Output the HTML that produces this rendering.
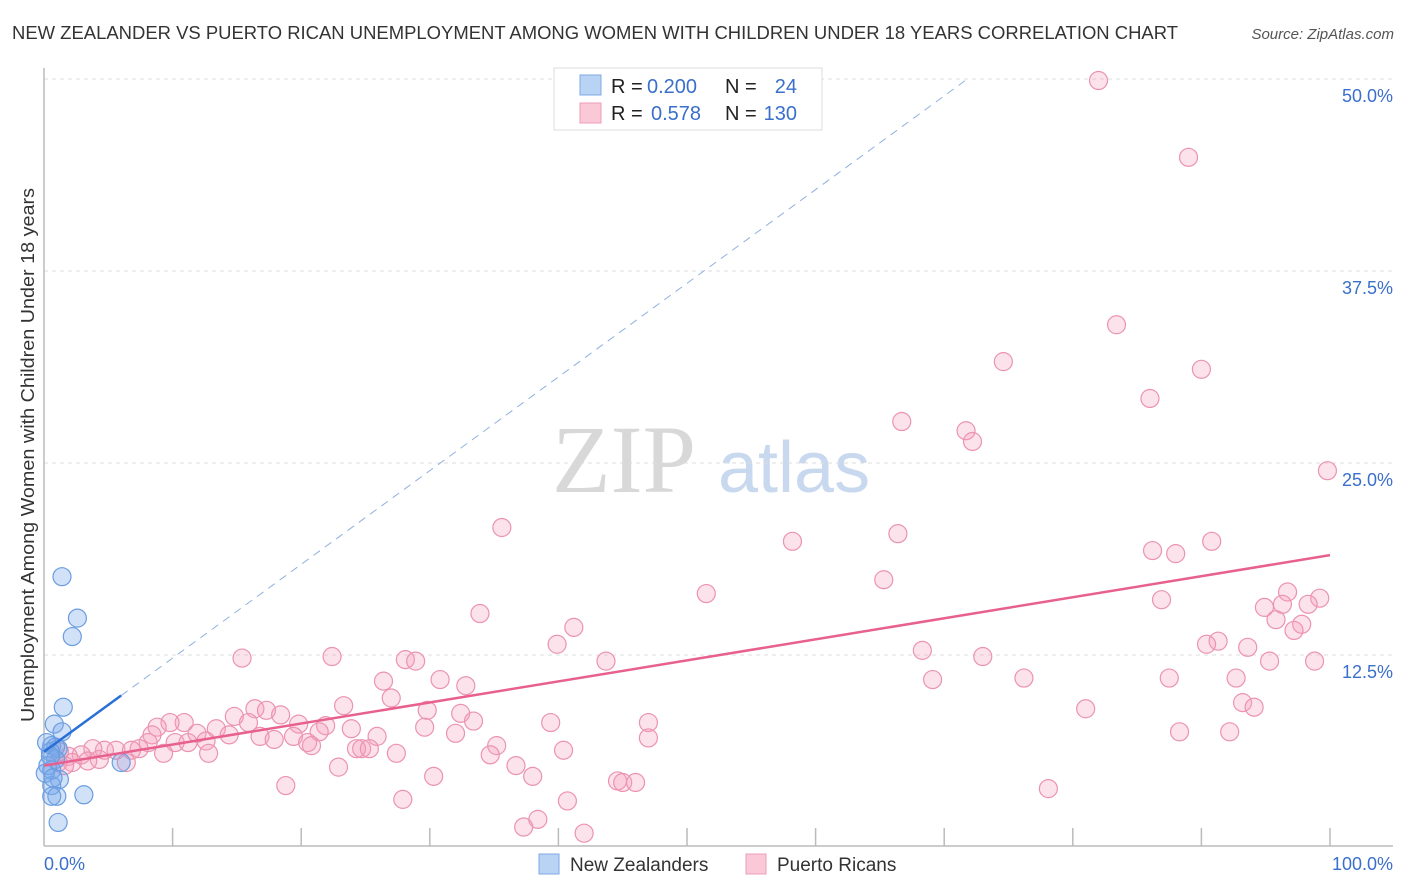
<!DOCTYPE html>
<html><head><meta charset="utf-8"><style>
body{margin:0;background:#fff;font-family:"Liberation Sans",sans-serif}
svg{display:block}
</style></head><body>
<svg id="chart" width="1406" height="892">
<text x="12" y="39" font-size="18" fill="#333" textLength="1166" lengthAdjust="spacingAndGlyphs">NEW ZEALANDER VS PUERTO RICAN UNEMPLOYMENT AMONG WOMEN WITH CHILDREN UNDER 18 YEARS CORRELATION CHART</text>
<text x="1394" y="39" font-size="15" fill="#555" font-style="italic" text-anchor="end">Source: ZipAtlas.com</text>
<g>
<text x="552" y="492" font-size="96" font-family="Liberation Serif,serif" fill="#d8d8d8">ZIP</text>
<text x="718" y="492" font-size="72" fill="#c8d8ee">atlas</text>
</g>
<g id="grid"></g>
<g id="axes"></g>
<g id="marks"></g>
<text transform="translate(34,455) rotate(-90)" font-size="18" fill="#333" text-anchor="middle" textLength="534" lengthAdjust="spacingAndGlyphs">Unemployment Among Women with Children Under 18 years</text>
<g>
<rect x="554" y="68" width="268" height="62" fill="#fff" stroke="#ddd"/>
<rect x="580" y="75" width="21" height="20" fill="#b9d3f5" stroke="#7eaae6"/>
<rect x="580" y="103" width="21" height="20" fill="#fac8d7" stroke="#ee9db8"/>
<g font-size="20">
<text x="611" y="93" fill="#222">R =</text>
<text x="647" y="93" fill="#3a6fcc">0.200</text>
<text x="725" y="93" fill="#222">N =</text>
<text x="797" y="93" fill="#3a6fcc" text-anchor="end">24</text>
<text x="611" y="120" fill="#222">R =</text>
<text x="651" y="120" fill="#3a6fcc">0.578</text>
<text x="725" y="120" fill="#222">N =</text>
<text x="797" y="120" fill="#3a6fcc" text-anchor="end">130</text>
</g>
</g>
<g>
<rect x="539" y="854" width="20" height="20" fill="#b9d3f5" stroke="#7eaae6"/>
<text x="570" y="871" font-size="19" fill="#333">New Zealanders</text>
<rect x="746" y="854" width="20" height="20" fill="#fac8d7" stroke="#ee9db8"/>
<text x="777" y="871" font-size="19" fill="#333">Puerto Ricans</text>
</g>
</svg>
<script>
const yTicks=[12.5,25,37.5,50];
const yTickLabels=["12.5%","25.0%","37.5%","50.0%"];
const xTickLabels=["0.0%","100.0%"];
const pinkX=[82.0,89.0,83.4,74.6,90.0,86.0,66.7,71.7,72.2,99.8,35.6,66.4,58.2,90.8,86.2,88.0,65.3,51.5,96.7,99.2,86.9,96.3,98.3,94.9,33.9,95.8,97.8,97.2,41.2,91.3,90.4,39.9,93.6,68.3,15.4,22.4,43.7,73.0,95.3,98.8,28.1,28.9,92.7,69.1,76.2,87.5,26.4,30.8,32.8,27.0,93.2,94.1,16.4,23.3,81.0,17.3,29.8,18.4,14.8,32.4,10.9,33.4,47.0,39.4,9.8,8.8,13.4,15.9,21.9,19.8,29.6,88.3,92.2,11.9,14.4,23.9,8.4,21.4,32.0,25.9,16.8,47.0,19.4,12.6,10.2,11.2,20.5,20.8,8.1,17.9,7.4,24.7,24.3,25.3,35.2,5.6,6.8,40.4,4.7,3.8,9.3,12.8,27.4,34.7,2.9,1.9,6.4,4.3,1.1,3.4,2.2,22.9,36.7,38.0,30.3,44.6,45.0,46.0,18.8,78.1,27.9,40.7,38.4,37.3,42.0,1.2,1.6];
const pinkY=[49.9,44.9,34.0,31.6,31.1,29.2,27.7,27.1,26.4,24.5,20.8,20.4,19.9,19.9,19.3,19.1,17.4,16.5,16.6,16.2,16.1,15.8,15.8,15.6,15.2,14.8,14.5,14.1,14.3,13.4,13.2,13.2,13.0,12.8,12.3,12.4,12.1,12.4,12.1,12.1,12.2,12.1,11.0,10.9,11.0,11.0,10.8,10.9,10.5,9.7,9.4,9.1,9.0,9.2,9.0,8.9,8.9,8.6,8.5,8.7,8.1,8.2,8.1,8.1,8.1,7.8,7.7,8.1,7.9,8.0,7.8,7.5,7.5,7.4,7.3,7.7,7.3,7.5,7.4,7.2,7.2,7.1,7.2,6.9,6.8,6.8,6.8,6.6,6.8,7.0,6.4,6.4,6.4,6.4,6.6,6.3,6.3,6.3,6.3,6.4,6.1,6.1,6.1,6.0,6.0,5.9,5.5,5.7,5.5,5.6,5.5,5.2,5.3,4.6,4.6,4.3,4.2,4.2,4.0,3.8,3.1,3.0,1.8,1.3,0.9,6.2,5.3];
const blueX=[1.4,2.6,2.2,1.5,0.8,1.4,0.6,0.9,1.1,0.5,0.9,0.3,0.6,1.2,0.6,1.0,0.6,3.1,1.1,6.0,0.1,0.2,0.5,0.7];
const blueY=[17.6,14.9,13.7,9.1,8.0,7.5,6.6,6.5,6.4,6.2,5.7,5.3,5.0,4.4,4.0,3.3,3.3,3.4,1.6,5.5,4.8,6.8,5.9,4.5];
const pinkTrend=[5.3,19.0];
const blueTrend=[6.2,0.61];
const X0=44,X1=1330,Y0=847,PY=15.36;
const sx=v=>X0+(X1-X0)*v/100, sy=v=>Y0-v*PY;
const NS="http://www.w3.org/2000/svg";
function mk(parent,tag,attrs){const e=document.createElementNS(NS,tag);for(const k in attrs)e.setAttribute(k,attrs[k]);document.getElementById(parent).appendChild(e);return e;}
yTicks.forEach((t,i)=>{
 const g=mk('grid','line',{x1:X0,x2:1393,y1:sy(t),y2:sy(t),stroke:'#ddd','stroke-dasharray':'4,4'});
 
 
 const l=mk('grid','text',{x:1393,y:sy(t)+23,'font-size':18,fill:'#3a6fcc','text-anchor':'end'});
 l.textContent=yTickLabels[i];
 
 
});
const ax=mk('axes','line',{x1:X0,x2:X0,y1:68,y2:846,stroke:'#bbb','stroke-width':1.5});


const bx=mk('axes','line',{x1:X0,x2:1393,y1:846,y2:846,stroke:'#bbb','stroke-width':1.5});


for(let v=10;v<=100;v+=10){const t=mk('axes','line',{x1:sx(v),x2:sx(v),y1:828,y2:846,stroke:'#bbb','stroke-width':1.5});
 
 }
[[0,'start',44],[100,'end',1393]].forEach((a,i)=>{const t=mk('axes','text',{x:a[2],y:870,'font-size':18,fill:'#3a6fcc','text-anchor':a[1]});t.textContent=xTickLabels[i];
 
 });
pinkX.forEach((x,i)=>{const c=mk('marks','circle',{cx:sx(x),cy:sy(pinkY[i]),r:9,fill:'rgba(246,160,190,0.3)',stroke:'#eb93b1','stroke-width':1.2});
 
 });
blueX.forEach((x,i)=>{const c=mk('marks','circle',{cx:sx(x),cy:sy(blueY[i]),r:9,fill:'rgba(120,170,235,0.35)',stroke:'#6a9de0','stroke-width':1.2});
 
 });
const pl=mk('marks','line',{x1:sx(0),y1:sy(pinkTrend[0]),x2:sx(100),y2:sy(pinkTrend[1]),stroke:'#e8608e','stroke-width':2.5});


const bxEnd=(50-blueTrend[0])/blueTrend[1];
const bd=mk('marks','line',{x1:sx(6),y1:sy(blueTrend[0]+blueTrend[1]*6),x2:sx(bxEnd),y2:sy(50),stroke:'#8fb0e0','stroke-width':1,'stroke-dasharray':'8,6'});


const bl=mk('marks','line',{x1:sx(0),y1:sy(blueTrend[0]),x2:sx(6),y2:sy(blueTrend[0]+blueTrend[1]*6),stroke:'#2a6fd6','stroke-width':2.5});


</script>
</body></html>
